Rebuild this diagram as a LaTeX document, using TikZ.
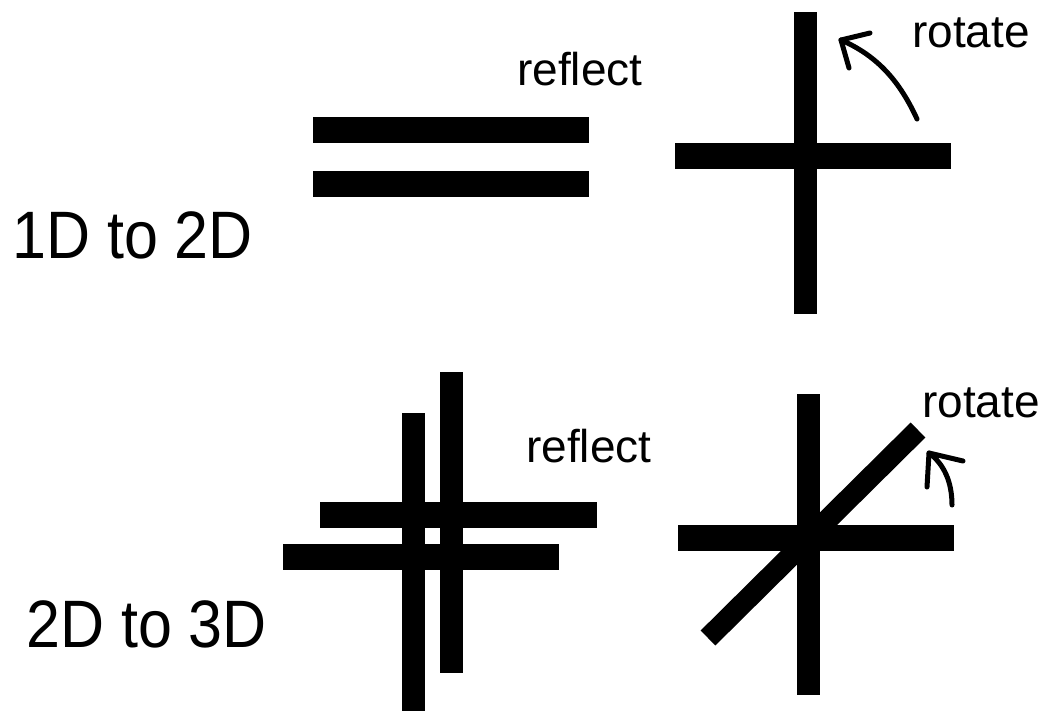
\documentclass[tikz,border=0pt]{standalone}
\usepackage{fontspec}
\usepackage{graphicx}
\setmainfont{Liberation Sans}
\begin{document}
\begin{tikzpicture}[x=1pt,y=-1pt,
  bar/.style={fill=black},
  hand/.style={draw=black,line width=5pt,line cap=round,line join=round},
  lbl/.style={inner sep=0pt,anchor=base west,font=\fontsize{46}{46}\selectfont},
  ttl/.style={inner sep=0pt,anchor=base west,font=\fontsize{61}{61}\selectfont}]
\useasboundingbox[fill=white] (0,0) rectangle (1049,710);
% titles
\node[ttl] (t1) at (12,258) {\scalebox{1}[1.1]{1D to 2D}};
\node[ttl] (t2) at (26,647) {\scalebox{1}[1.1]{2D to 3D}};
% labels
\node[lbl] (rf1) at (517,85) {reflect};
\node[lbl] (rt1) at (912,47) {rotate};
\node[lbl] (rf2) at (526,462) {reflect};
\node[lbl] (rt2) at (922,417) {rotate};
% 1D to 2D: reflect
\fill[bar] (313,117) rectangle (589,143);
\fill[bar] (313,171) rectangle (589,197);
% 1D to 2D: rotate
\fill[bar] (794,12) rectangle (817,314);
\fill[bar] (675,143) rectangle (951,169);
\coordinate (a1s) at (917,119);
\coordinate (a1t) at (841,40);
\draw[hand] (a1s) .. controls (900,82) and (878,56) .. (a1t);
\draw[hand] (870,33) -- (a1t) -- (849,68);
% 2D to 3D: reflect
\fill[bar] (402,413) rectangle (425,712);
\fill[bar] (440,372) rectangle (463,673);
\fill[bar] (320,502) rectangle (597,528);
\fill[bar] (283,544) rectangle (559,570);
% 2D to 3D: rotate
\fill[bar] (797,394) rectangle (820,695);
\fill[bar] (678,525) rectangle (954,551);
\draw[line width=21pt] (708,638) -- (918,430);
\coordinate (a2s) at (952,505);
\coordinate (a2t) at (929,453);
\draw[hand] (a2s) .. controls (952,482) and (944,464) .. (a2t);
\draw[hand] (963,461) -- (a2t) -- (927,487);
\end{tikzpicture}
\end{document}
